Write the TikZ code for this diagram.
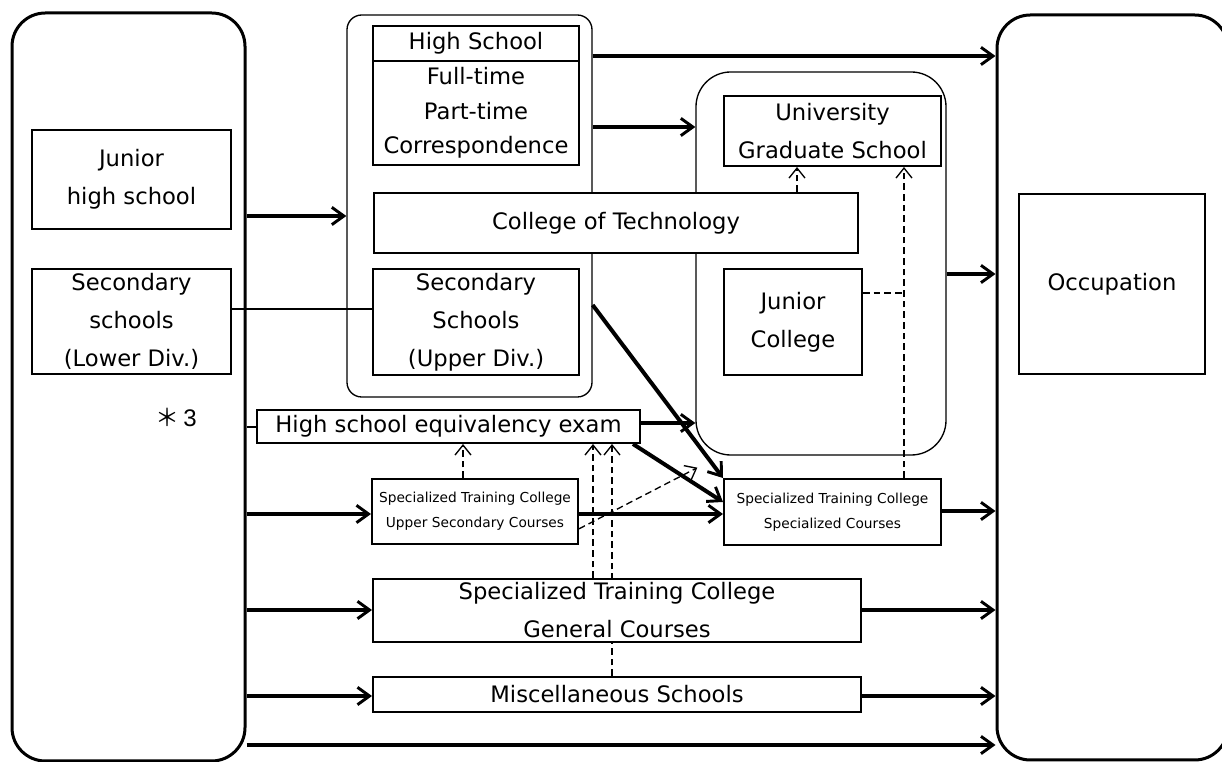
\documentclass[tikz,border=0pt]{standalone}
\usepackage{fontspec}
\setmainfont{DejaVu Sans}
\newfontfamily\cjk{Noto Sans CJK JP}
\newfontfamily\digits{Liberation Sans}
\usetikzlibrary{arrows.meta,backgrounds}

\newcommand{\pxu}{0.75pt}

\tikzset{every picture/.style={line width=0.75pt}}
\tikzset{
  frame/.style={draw, line width=2.25pt, rounded corners=25pt, inner sep=0pt},
  group/.style={draw, line width=1pt, rounded corners=11pt, inner sep=0pt},
  stage/.style={draw, line width=1.5pt, fill=white, inner sep=0pt, align=center,
    font=\fontsize{17}{28.5}\selectfont},
  small stage/.style={stage, font=\fontsize{10.3}{19}\selectfont},
  flow/.style={line width=3pt, -{Straight Barb[length=9pt,width=13pt,line width=2.2pt]}},
  hint/.style={line width=1pt, dash pattern=on 5pt off 3pt,
    -{Straight Barb[length=7.5pt,width=12pt]}},
  plain/.style={line width=1.1pt},
}

\begin{document}
\begin{tikzpicture}[x=0.75pt,y=0.75pt,yscale=-1,xscale=1]
\useasboundingbox (0,0) rectangle (1222,762);

% containers
\node[frame, minimum width=233*\pxu, minimum height=748*\pxu] (school) at (128.5,387) {};
\node[frame, minimum width=231*\pxu, minimum height=745*\pxu] (work) at (1112.5,387.5) {};
\node[group, minimum width=245*\pxu, minimum height=382*\pxu] (hsgroup) at (469.5,206) {};
\node[group, rounded corners=26pt, minimum width=250*\pxu, minimum height=383*\pxu] (higher) at (821,263.5) {};

% lower secondary
\node[stage, minimum width=199*\pxu, minimum height=99*\pxu] (jhs) at (131.5,179.5) {Junior\\high school};
\node[stage, minimum width=199*\pxu, minimum height=105*\pxu] (lowerdiv) at (131.5,321.5) {Secondary\\schools\\(Lower Div.)};

% upper secondary
\node[stage, minimum width=206*\pxu, minimum height=35*\pxu] (hshead) at (476,43.5) {High School};
\node[stage, font=\fontsize{17}{26}\selectfont, minimum width=206*\pxu, minimum height=104*\pxu] (hsbody) at (476,113) {Full-time\\Part-time\\Correspondence};
\node[stage, minimum width=484*\pxu, minimum height=60*\pxu] (tech) at (616,223) {College of Technology};
\node[stage, minimum width=206*\pxu, minimum height=106*\pxu] (upperdiv) at (476,322) {Secondary\\Schools\\(Upper Div.)};

% higher education and work
\node[stage, minimum width=217*\pxu, minimum height=70*\pxu] (univ) at (832.5,131) {University\\Graduate School};
\node[stage, minimum width=138*\pxu, minimum height=106*\pxu] (jcol) at (793,322) {Junior\\College};
\node[stage, minimum width=186*\pxu, minimum height=180*\pxu] (occ) at (1112,284) {Occupation};

% other routes
\node[font=\fontsize{18}{20}\selectfont] (note) at (176,417) {{\cjk ＊}\,{\digits 3}};
\node[stage, minimum width=383*\pxu, minimum height=33*\pxu] (exam) at (448.5,426.5) {High school equivalency exam};
\node[small stage, minimum width=206*\pxu, minimum height=65*\pxu] (upsec) at (475,511.5) {Specialized Training College\\Upper Secondary Courses};
\node[small stage, minimum width=217*\pxu, minimum height=66*\pxu] (speccrs) at (832.5,512) {Specialized Training College\\Specialized Courses};
\node[stage, minimum width=488*\pxu, minimum height=63*\pxu] (gencrs) at (617,610.5) {Specialized Training College\\General Courses};
\node[stage, minimum width=488*\pxu, minimum height=35*\pxu] (misc) at (617,694.5) {Miscellaneous Schools};

% levels of the connectors
\coordinate (toJob) at (0,56);
\coordinate (toUni) at (0,127);
\coordinate (toHS) at (0,216);
\coordinate (fromUni) at (0,274);
\coordinate (link) at (0,309);
\coordinate (slant) at (0,305);
\coordinate (toExam) at (0,427);
\coordinate (examUp) at (0,423);
\coordinate (toUpsec) at (0,514);
\coordinate (specIn) at (0,502);
\coordinate (specOut) at (0,511);
\coordinate (toGen) at (0,610);
\coordinate (toMisc) at (0,696);
\coordinate (direct) at (0,745);
\coordinate (riseA) at (593,0);
\coordinate (riseB) at (612,0);
\coordinate (lift) at (797,0);
\coordinate (join) at (904,293);

% dashed routes
\begin{pgfonlayer}{background}
\draw[hint] (misc.north -| riseB) -- (exam.south -| riseB);
\end{pgfonlayer}
\draw[hint] (gencrs.north -| riseA) -- (exam.south -| riseA);
\draw[hint] ([xshift=-9pt]upsec.north) -- ([xshift=-9pt]upsec.north |- exam.south);
\draw[hint] ([yshift=13pt]upsec.east) -- ([xshift=1.5pt,yshift=9pt]higher.south west);
\draw[hint] (tech.north -| lift) -- (univ.south -| lift);
\draw[hint] (speccrs.north -| join) -- (univ.south -| join);
\draw[plain, line width=1pt, dash pattern=on 5pt off 3pt] (jcol.east |- join) -- (join);

% thin links
\draw[plain] (lowerdiv.east |- link) -- (upperdiv.west |- link);
\draw[plain] (school.east |- toExam) -- (exam.west |- toExam);

% main routes
\draw[flow] (hsgroup.east |- toJob) -- (work.west |- toJob);
\draw[flow] (hsgroup.east |- toUni) -- (higher.west |- toUni);
\draw[flow] (school.east |- toHS) -- (hsgroup.west |- toHS);
\draw[flow] (higher.east |- fromUni) -- (work.west |- fromUni);
\draw[flow] (exam.east |- examUp) -- (higher.west |- examUp);
\draw[flow] (hsgroup.east |- slant) -- (speccrs.north west);
\draw[flow] ([xshift=-6pt]exam.south east) -- (speccrs.west |- specIn);
\draw[flow] (school.east |- toUpsec) -- (upsec.west |- toUpsec);
\draw[flow] (upsec.east |- toUpsec) -- (speccrs.west |- toUpsec);
\draw[flow] (speccrs.east |- specOut) -- (work.west |- specOut);
\draw[flow] (school.east |- toGen) -- (gencrs.west |- toGen);
\draw[flow] (gencrs.east |- toGen) -- (work.west |- toGen);
\draw[flow] (school.east |- toMisc) -- (misc.west |- toMisc);
\draw[flow] (misc.east |- toMisc) -- (work.west |- toMisc);
\draw[flow] (school.east |- direct) -- (work.west |- direct);

\end{tikzpicture}
\end{document}
